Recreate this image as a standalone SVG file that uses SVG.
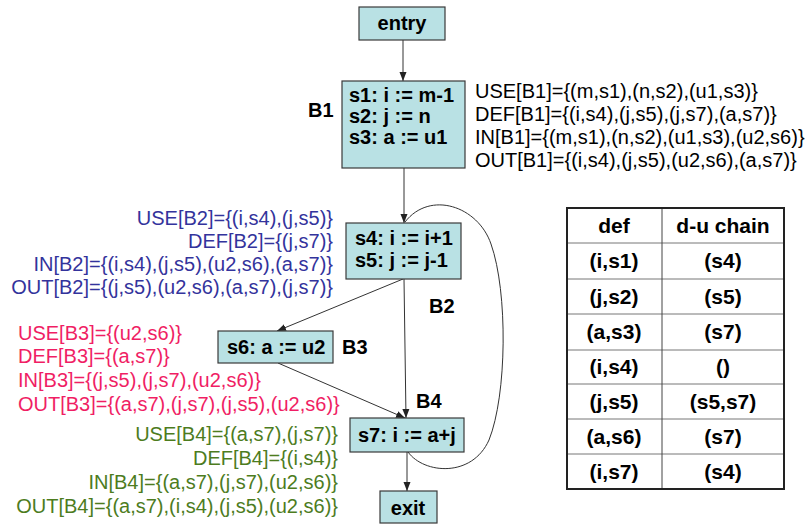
<svg xmlns="http://www.w3.org/2000/svg" width="812" height="524" viewBox="0 0 812 524">
  <defs>
    <marker id="arrow" markerWidth="10" markerHeight="10" refX="9" refY="5" orient="auto" markerUnits="userSpaceOnUse">
      <path d="M0,1.5 L9,5 L0,8.5 Z" fill="#222"/>
    </marker>
    <style>
      .box { fill: #b9e1e4; stroke: #3a3a3a; stroke-width: 1.2; }
      .code { font-family: "Liberation Sans", Arial, sans-serif; font-size: 20px; font-weight: bold; fill: #000; }
      .lbl { font-family: "Liberation Sans", Arial, sans-serif; font-size: 20px; font-weight: bold; fill: #000; }
      .ann { font-family: "Liberation Sans", Arial, sans-serif; font-size: 20px; }
      .b1 { fill: #000; }
      .b2 { fill: #33339c; text-anchor: end; }
      .b3 { fill: #f01e64; }
      .b4 { fill: #4d7c1e; text-anchor: end; }
      .edge { fill: none; stroke: #333; stroke-width: 1; }
      .tbl { font-family: "Liberation Sans", Arial, sans-serif; font-size: 21px; font-weight: bold; fill: #000; text-anchor: middle; }
      .grid { stroke: #777; stroke-width: 1; }
    </style>
  </defs>

  <!-- control-flow edges -->
  <g id="edges">
    <line class="edge" x1="403" y1="40" x2="403" y2="81" marker-end="url(#arrow)"/>
    <line class="edge" x1="404" y1="168" x2="404" y2="223" marker-end="url(#arrow)"/>
    <line class="edge" x1="403" y1="279" x2="277" y2="331" marker-end="url(#arrow)"/>
    <line class="edge" x1="404" y1="279" x2="406" y2="418" marker-end="url(#arrow)"/>
    <line class="edge" x1="278" y1="363" x2="405" y2="418" marker-end="url(#arrow)"/>
    <line class="edge" x1="407" y1="452" x2="407" y2="491" marker-end="url(#arrow)"/>
    <!-- loop back from B4 to B2 -->
    <path class="edge" d="M408,452 C424,474 472,478 489,440 C507,395 508,292 491,244 C478,206 430,190 405,222"/>
  </g>

  <g id="entry">
    <rect class="box" x="359" y="7" width="86" height="33"/>
    <text class="code" x="402" y="30" text-anchor="middle">entry</text>
  </g>

  <g id="B1">
    <rect class="box" x="342" y="81" width="123" height="87"/>
    <text class="code" x="349" y="102">s1: i := m-1</text>
    <text class="code" x="349" y="123">s2: j := n</text>
    <text class="code" x="349" y="144">s3: a := u1</text>
    <text class="lbl" x="308" y="117">B1</text>
  </g>

  <g id="B2">
    <rect class="box" x="346" y="223" width="115" height="56"/>
    <text class="code" x="355" y="245">s4: i := i+1</text>
    <text class="code" x="355" y="267">s5: j := j-1</text>
    <text class="lbl" x="429" y="313">B2</text>
  </g>

  <g id="B3">
    <rect class="box" x="218" y="331" width="115" height="32"/>
    <text class="code" x="227" y="354">s6: a := u2</text>
    <text class="lbl" x="342" y="354">B3</text>
  </g>

  <g id="B4">
    <rect class="box" x="350" y="418" width="114" height="34"/>
    <text class="code" x="358" y="442">s7: i := a+j</text>
    <text class="lbl" x="416" y="408">B4</text>
  </g>

  <g id="exit">
    <rect class="box" x="380" y="491" width="57" height="32"/>
    <text class="code" x="408" y="515" text-anchor="middle">exit</text>
  </g>

  <!-- data-flow sets per block -->
  <g id="sets-B1" class="ann b1">
    <text x="475" y="98">USE[B1]={(m,s1),(n,s2),(u1,s3)}</text>
    <text x="475" y="121">DEF[B1]={(i,s4),(j,s5),(j,s7),(a,s7)}</text>
    <text x="475" y="144">IN[B1]={(m,s1),(n,s2),(u1,s3),(u2,s6)}</text>
    <text x="475" y="167">OUT[B1]={(i,s4),(j,s5),(u2,s6),(a,s7)}</text>
  </g>
  <g id="sets-B2" class="ann b2">
    <text x="333" y="225">USE[B2]={(i,s4),(j,s5)}</text>
    <text x="333" y="248">DEF[B2]={(j,s7)}</text>
    <text x="333" y="271">IN[B2]={(i,s4),(j,s5),(u2,s6),(a,s7)}</text>
    <text x="333" y="294">OUT[B2]={(j,s5),(u2,s6),(a,s7),(j,s7)}</text>
  </g>
  <g id="sets-B3" class="ann b3">
    <text x="18" y="340">USE[B3]={(u2,s6)}</text>
    <text x="18" y="363">DEF[B3]={(a,s7)}</text>
    <text x="18" y="387">IN[B3]={(j,s5),(j,s7),(u2,s6)}</text>
    <text x="18" y="411">OUT[B3]={(a,s7),(j,s7),(j,s5),(u2,s6)}</text>
  </g>
  <g id="sets-B4" class="ann b4">
    <text x="338" y="441">USE[B4]={(a,s7),(j,s7)}</text>
    <text x="338" y="465">DEF[B4]={(i,s4)}</text>
    <text x="338" y="489">IN[B4]={(a,s7),(j,s7),(u2,s6)}</text>
    <text x="338" y="513">OUT[B4]={(a,s7),(i,s4),(j,s5),(u2,s6)}</text>
  </g>

  <!-- def / d-u chain table -->
  <g id="du-table">
    <rect x="567" y="208" width="217" height="281" fill="#fff" stroke="none"/>
    <g class="grid">
      <line x1="567" y1="243" x2="784" y2="243"/>
      <line x1="567" y1="279" x2="784" y2="279"/>
      <line x1="567" y1="314" x2="784" y2="314"/>
      <line x1="567" y1="350" x2="784" y2="350"/>
      <line x1="567" y1="384" x2="784" y2="384"/>
      <line x1="567" y1="419" x2="784" y2="419"/>
      <line x1="567" y1="454" x2="784" y2="454"/>
      <line x1="662" y1="208" x2="662" y2="489" stroke="#444"/>
    </g>
    <rect x="567" y="208" width="217" height="281" fill="none" stroke="#222" stroke-width="2"/>
    <text class="tbl" x="614" y="233">def</text>
    <text class="tbl" x="723" y="233">d-u chain</text>
    <text class="tbl" x="614" y="268">(i,s1)</text>
    <text class="tbl" x="723" y="268">(s4)</text>
    <text class="tbl" x="614" y="304">(j,s2)</text>
    <text class="tbl" x="723" y="304">(s5)</text>
    <text class="tbl" x="614" y="339">(a,s3)</text>
    <text class="tbl" x="723" y="339">(s7)</text>
    <text class="tbl" x="614" y="374">(i,s4)</text>
    <text class="tbl" x="723" y="374">()</text>
    <text class="tbl" x="614" y="409">(j,s5)</text>
    <text class="tbl" x="723" y="409">(s5,s7)</text>
    <text class="tbl" x="614" y="444">(a,s6)</text>
    <text class="tbl" x="723" y="444">(s7)</text>
    <text class="tbl" x="614" y="479">(i,s7)</text>
    <text class="tbl" x="723" y="479">(s4)</text>
  </g>
</svg>
